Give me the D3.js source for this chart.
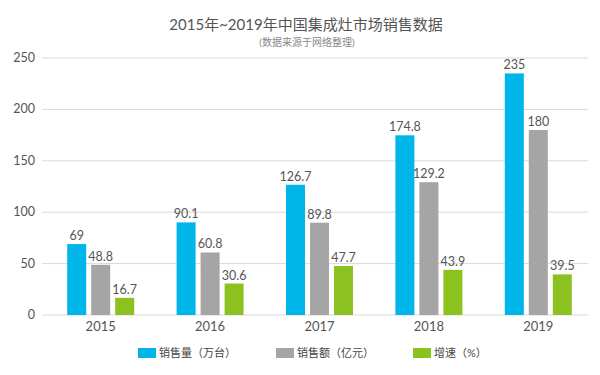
<!DOCTYPE html>
<html>
<head>
<meta charset="utf-8">
<script src="https://cdn.jsdelivr.net/npm/d3@7"></script>
<style>
  body { margin: 0; background: #fff; }
  svg text { font-family: Lato, "Noto Sans CJK SC", sans-serif; }
</style>
</head>
<body>
<svg id="chart"></svg>
<script>
const years = ["2015", "2016", "2017", "2018", "2019"];
const seriesNames = ["销售量（万台）", "销售额（亿元）", "增速（%）"];
const volume = [69, 90.1, 126.7, 174.8, 235];
const revenue = [48.8, 60.8, 89.8, 129.2, 180];
const growth = [16.7, 30.6, 47.7, 43.9, 39.5];
const yTicks = [0, 50, 100, 150, 200, 250];
const colors = ["#00b5e9", "#a5a5a5", "#8cc220"];

const width = 600, height = 375;
const svg = d3.select("#chart").attr("width", width).attr("height", height);

const x = d3.scaleBand().domain(years).range([46, 593]);
const y = d3.scaleLinear().domain([0, 250]).range([315, 58]);

const series = [volume, revenue, growth];
const barW = 19, step = 24;

// gridlines + y labels
svg.append("g")
  .selectAll("line")
  .data(yTicks)
  .enter()
  .append("line")
  .attr("x1", 42)
  .attr("x2", 588)
  .attr("y1", (d) => y(d))
  .attr("y2", (d) => y(d))
  .attr("stroke", "#d9d9d9")
  .attr("stroke-width", 1);

svg.append("g")
  .selectAll("text")
  .data(yTicks)
  .enter()
  .append("text")
  .attr("x", 35)
  .attr("y", (d) => y(d) + 4)
  .attr("text-anchor", "end")
  .attr("font-size", "12.5px")
  .attr("fill", "#555")
  .text((d) => d);

// bars
series.forEach((vals, si) => {
  const g = svg.append("g");
  const offset = (si - 1) * step - barW / 2;
  g.selectAll("rect")
    .data(vals)
    .enter()
    .append("rect")
    .attr("x", (d, i) => x(years[i]) + x.bandwidth() / 2 + offset)
    .attr("y", (d) => y(d))
    .attr("width", barW)
    .attr("height", (d) => y(0) - y(d))
    .attr("fill", colors[si]);

  g.selectAll("text")
    .data(vals)
    .enter()
    .append("text")
    .attr("x", (d, i) => x(years[i]) + x.bandwidth() / 2 + offset + barW / 2)
    .attr("y", (d) => y(d) - 4)
    .attr("text-anchor", "middle")
    .attr("font-size", "12.5px")
    .attr("fill", "#555")
    .text((d) => d);
});

// x labels
svg.append("g")
  .selectAll("text")
  .data(years)
  .enter()
  .append("text")
  .attr("x", (d) => x(d) + x.bandwidth() / 2)
  .attr("y", 331)
  .attr("text-anchor", "middle")
  .attr("font-size", "13px")
  .attr("fill", "#555")
  .text((d) => d);

// title
svg.append("text")
  .attr("x", 306)
  .attr("y", 30)
  .attr("text-anchor", "middle")
  .attr("font-size", "15px")
  .attr("fill", "#555")
  .text("2015年~2019年中国集成灶市场销售数据");

svg.append("text")
  .attr("x", 307)
  .attr("y", 46)
  .attr("text-anchor", "middle")
  .attr("font-size", "10px")
  .attr("fill", "#888")
  .text("(数据来源于网络整理)");

// legend
const legendX = [138, 276, 413];
seriesNames.forEach((name, i) => {
  const row = svg.append("g").attr("transform", `translate(${legendX[i]}, 348)`);
  row.append("rect")
    .attr("width", 18)
    .attr("height", 10)
    .attr("fill", colors[i]);
  row.append("text")
    .attr("x", 21)
    .attr("y", 9)
    .attr("font-size", "11px")
    .attr("fill", "#444")
    .text(name);
});
</script>
</body>
</html>
